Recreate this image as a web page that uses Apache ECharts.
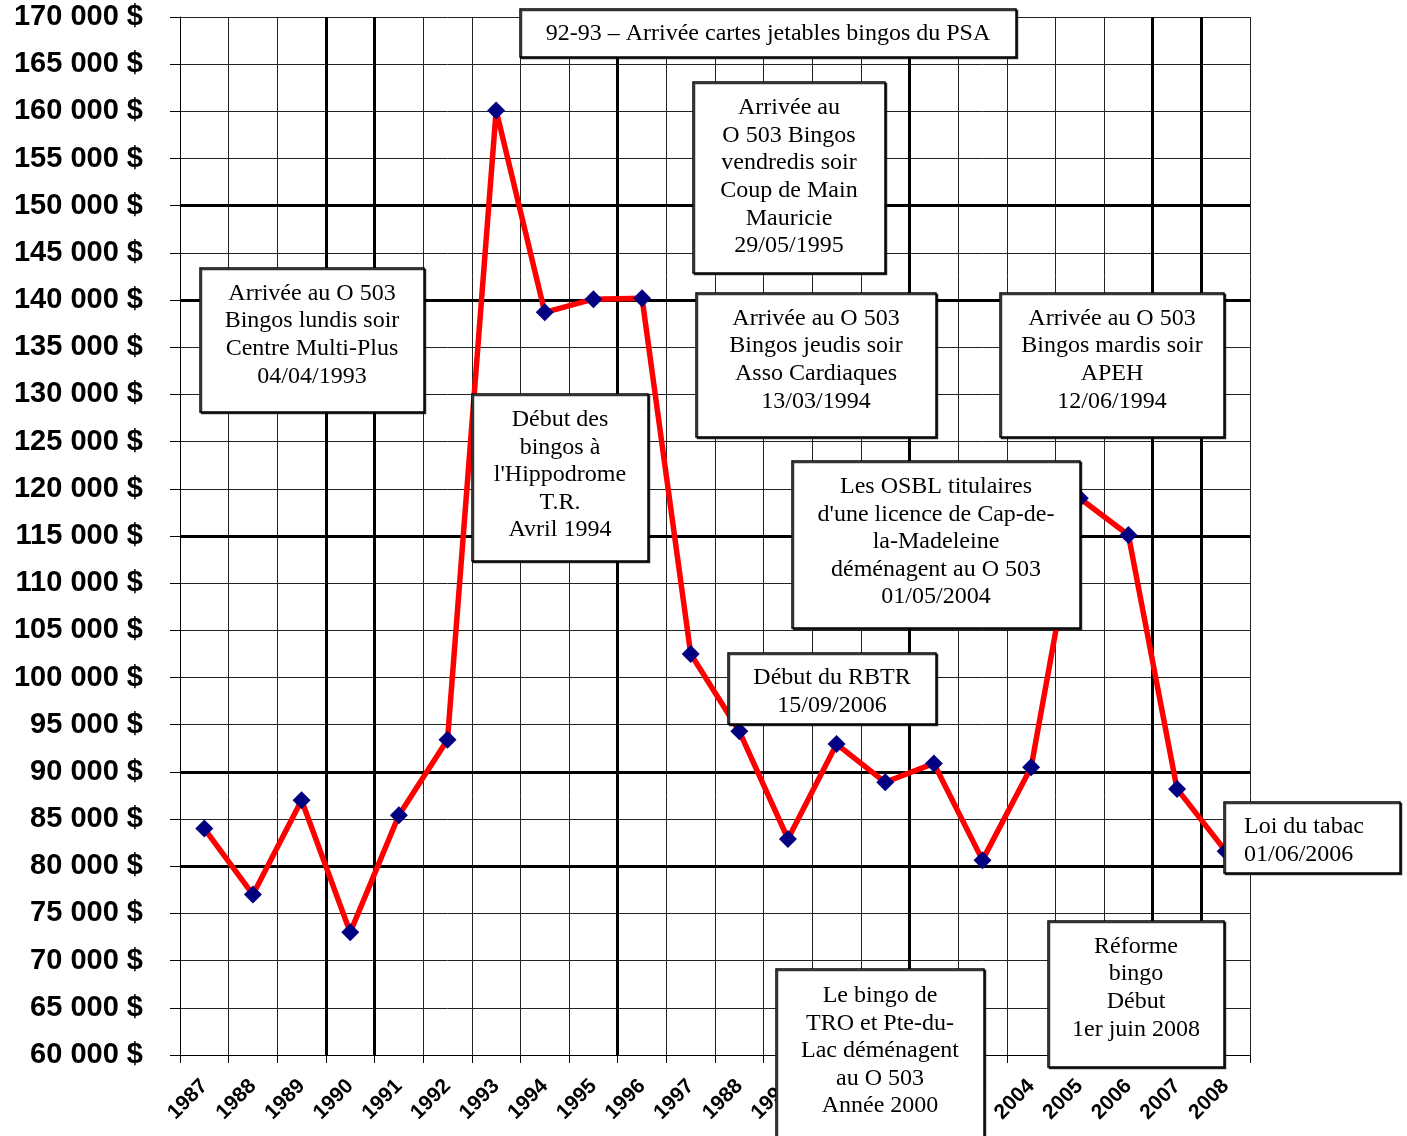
<!DOCTYPE html>
<html><head><meta charset="utf-8">
<script src="https://cdn.jsdelivr.net/npm/echarts@6/dist/echarts.min.js"></script>
<style>html,body{margin:0;padding:0;background:#fff}#c{width:1407px;height:1136px}</style>
</head><body><div id="c"></div>
<script>
const years = ['1987','1988','1989','1990','1991','1992','1993','1994','1995','1996','1997','1998','1999','2000','2001','2002','2003','2004','2005','2006','2007','2008'];
const tickLabels = ['1987','1988','1989','1990','1991','1992','1993','1994','1995','1996','1997','1988','1999','2000','2001','2002','2003','2004','2005','2006','2007','2008'];
const revenue = [84000,77000,87000,73000,85400,93400,160100,138700,140100,140200,102500,94300,82900,92950,88900,90900,80650,90500,119000,115100,88200,81600];
const thickYLines = [150000,140000,115000,90000,80000];
const thickXBoundaries = [3,4,9,15,20,21];
const notes = [
  {text:'92-93 – Arrivée cartes jetables bingos du PSA', box:[520,9,496,48], textY:34},
  {text:'Arrivée au\nO 503 Bingos\nvendredis soir\nCoup de Main\nMauricie\n29/05/1995', box:[693,82,192,191], textY:177},
  {text:'Arrivée au O 503\nBingos lundis soir\nCentre Multi-Plus\n04/04/1993', box:[200,268,224,144], textY:335},
  {text:"Début des\nbingos à\nl'Hippodrome\nT.R.\nAvril 1994", box:[472,394,176,167], textY:475},
  {text:'Arrivée au O 503\nBingos jeudis soir\nAsso Cardiaques\n13/03/1994', box:[696,293,240,144], textY:360},
  {text:'Arrivée au O 503\nBingos mardis soir\nAPEH\n12/06/1994', box:[1000,293,224,144], textY:360},
  {text:"Les OSBL titulaires\nd'une licence de Cap-de-\nla-Madeleine\ndéménagent au O 503\n01/05/2004", box:[792,461,288,167], textY:542},
  {text:'Début du RBTR\n15/09/2006', box:[728,653,208,71], textY:692},
  {text:'Loi du tabac\n01/06/2006', box:[1224,802,176,71], left:true, textY:841},
  {text:'Réforme\nbingo\nDébut\n1er juin 2008', box:[1048,921,176,146], textY:988},
  {text:'Le bingo de\nTRO et Pte-du-\nLac déménagent\nau O 503\nAnnée 2000', box:[776,969,208,175], textY:1051}
];
const graphics = [];
notes.forEach(n => {
  const [x,y,w,h] = n.box;
  graphics.push({type:'rect', z:100, shape:{x:x,y:y,width:w,height:h},
    style:{fill:'#fff', stroke:'#000', lineWidth:1.5, shadowColor:'rgba(0,0,0,0.8)', shadowOffsetX:1.5, shadowOffsetY:1.5, shadowBlur:0}});
  graphics.push({type:'text', z:101, x: n.left ? x+20 : x+w/2, y: n.textY || (y+h/2),
    style:{text:n.text, font:'24px "Liberation Serif", "Times New Roman", serif', fill:'#000',
      textAlign: n.left ? 'left' : 'center', textVerticalAlign:'middle', lineHeight:27.6}});
});
const chart = echarts.init(document.getElementById('c'));
chart.setOption({
  animation:false,
  grid:{left:180, right:157, top:17, bottom:81},
  xAxis:[{
    type:'category', data:tickLabels, boundaryGap:true,
    axisLine:{lineStyle:{color:'#000', width:1}},
    axisTick:{show:true, alignWithLabel:false, length:8, lineStyle:{color:'#000'}},
    axisLabel:{interval:0, rotate:45, margin:28, color:'#000', fontWeight:'bold', fontSize:21, fontFamily:'"Liberation Sans", Arial, sans-serif'},
    splitLine:{show:true, interval:0, lineStyle:{color:'#222', width:1}}
  },{
    type:'value', min:0, max:22, position:'bottom', show:true,
    axisLine:{show:false}, axisTick:{show:false}, axisLabel:{show:false}, splitLine:{show:false}
  }],
  yAxis:{
    type:'value', min:60000, max:170000, interval:5000,
    axisLine:{show:true, lineStyle:{color:'#000'}},
    axisTick:{show:true, length:10, lineStyle:{color:'#000'}},
    axisLabel:{margin:37, color:'#000', fontWeight:'bold', fontSize:29, fontFamily:'"Liberation Sans", Arial, sans-serif',
      padding:[5,0,0,0],
      formatter: v => Math.round(v/1000) + ' 000 $'},
    splitLine:{show:true, lineStyle:{color:'#222', width:1}}
  },
  series:[{
    type:'line', xAxisIndex:1, data:[[0,60000]], symbol:'none', lineStyle:{opacity:0}, silent:true, z:1,
    markLine:{silent:true, symbol:['none','none'], label:{show:false}, animation:false,
      lineStyle:{color:'#000', width:3, type:'solid'},
      data: thickXBoundaries.map(b => ({xAxis:b})).concat(thickYLines.map(v => ({yAxis:v})))}
  },{
    type:'line', data:revenue, z:5,
    lineStyle:{color:'#ff0000', width:5.5},
    symbol:'diamond', symbolSize:18, showAllSymbol:true,
    itemStyle:{color:'#000080'}
  }],
  graphic:graphics
});
</script></body></html>
